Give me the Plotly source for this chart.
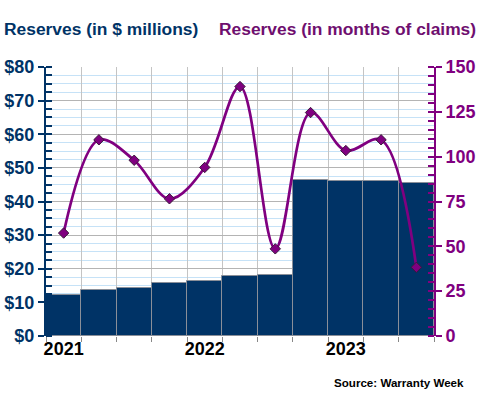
import plotly.graph_objects as go

quarters = ["2021 Q1", "2021 Q2", "2021 Q3", "2021 Q4",
            "2022 Q1", "2022 Q2", "2022 Q3", "2022 Q4",
            "2023 Q1", "2023 Q2", "2023 Q3"]
tick_labels = ["2021", "", "", "", "2022", "", "", "", "2023", "", ""]
reserves_millions = [12.1, 13.6, 14.2, 15.7, 16.5, 17.9, 18.2, 46.5, 46.1, 46.1, 45.6]
reserves_months = [57.4, 109.4, 98.0, 76.5, 94.0, 139.1, 48.6, 124.6, 103.4, 109.4, 38.3]

NAVY = "#003366"
PURPLE = "#800080"
FONT = "Liberation Sans, Arial, sans-serif"

fig = go.Figure()
fig.add_trace(go.Bar(
    x=quarters, y=reserves_millions, yaxis="y",
    marker=dict(color=NAVY, line=dict(color="#8a8f99", width=1)),
    width=1.0, showlegend=False, hoverinfo="skip",
))
fig.add_trace(go.Scatter(
    x=quarters, y=reserves_months, yaxis="y2", mode="lines+markers",
    line=dict(color=PURPLE, width=2.7, shape="spline", smoothing=1.0),
    marker=dict(symbol="diamond", size=8, color=PURPLE, line=dict(color="#3a1a3a", width=1)),
    showlegend=False, cliponaxis=False,
))

fig.update_layout(
    width=480, height=400,
    margin=dict(l=46, r=46, t=67, b=64, autoexpand=False),
    plot_bgcolor="white", paper_bgcolor="white",
    font=dict(family=FONT),
    bargap=0,
    xaxis=dict(
        type="category", tickson="boundaries",
        tickvals=quarters, ticktext=tick_labels, tickangle=0, automargin=False,
        ticks="outside", ticklen=5, tickcolor="#888888",
        showgrid=True, gridcolor="#c4c4c4", gridwidth=1,
        showline=False, zeroline=False,
        tickfont=dict(size=18, color="black", family=FONT, weight="bold"),
        range=[-0.5, 10.5],
    ),
    yaxis=dict(
        range=[0, 80], dtick=10, tickprefix="$", automargin=False,
        showline=True, linecolor=NAVY, linewidth=2,
        ticks="outside", ticklen=6, tickcolor=NAVY, tickwidth=2,
        showgrid=True, gridcolor="#b4b4b4", gridwidth=1,
        zeroline=False,
        tickfont=dict(size=18, color=NAVY, family=FONT, weight="bold"),
        minor=dict(dtick=2.5, ticks="inside", ticklen=6, tickcolor=NAVY, tickwidth=1.5,
                   showgrid=True, gridcolor="#c6e2f7", gridwidth=1),
    ),
    yaxis2=dict(
        range=[0, 150], dtick=25, overlaying="y", side="right", automargin=False,
        showline=True, linecolor=PURPLE, linewidth=2,
        ticks="outside", ticklen=6, tickcolor=PURPLE, tickwidth=2,
        showgrid=False, zeroline=False,
        tickfont=dict(size=18, color=PURPLE, family=FONT, weight="bold"),
        minor=dict(dtick=5, ticks="inside", ticklen=6, tickcolor=PURPLE, tickwidth=1.5),
    ),
    annotations=[
        dict(text="<b>Reserves (in $ millions)</b>", xref="paper", yref="paper",
             x=-0.113, y=1.14, xanchor="left", yanchor="middle", showarrow=False,
             font=dict(size=17.4, color=NAVY, family=FONT)),
        dict(text="<b>Reserves (in months of claims)</b>", xref="paper", yref="paper",
             x=1.113, y=1.14, xanchor="right", yanchor="middle", showarrow=False,
             font=dict(size=17.4, color="#6f0f6f", family=FONT)),
        dict(text="<b>Source: Warranty Week</b>", xref="paper", yref="paper",
             x=1.0825, y=-0.1745, xanchor="right", yanchor="middle", showarrow=False,
             font=dict(size=11.6, color="black", family=FONT)),
    ],
)

fig.write_html(
    "out.html",
    config={"displayModeBar": False},
    post_script="document.body.style.margin='0';document.body.style.overflow='hidden';",
)
